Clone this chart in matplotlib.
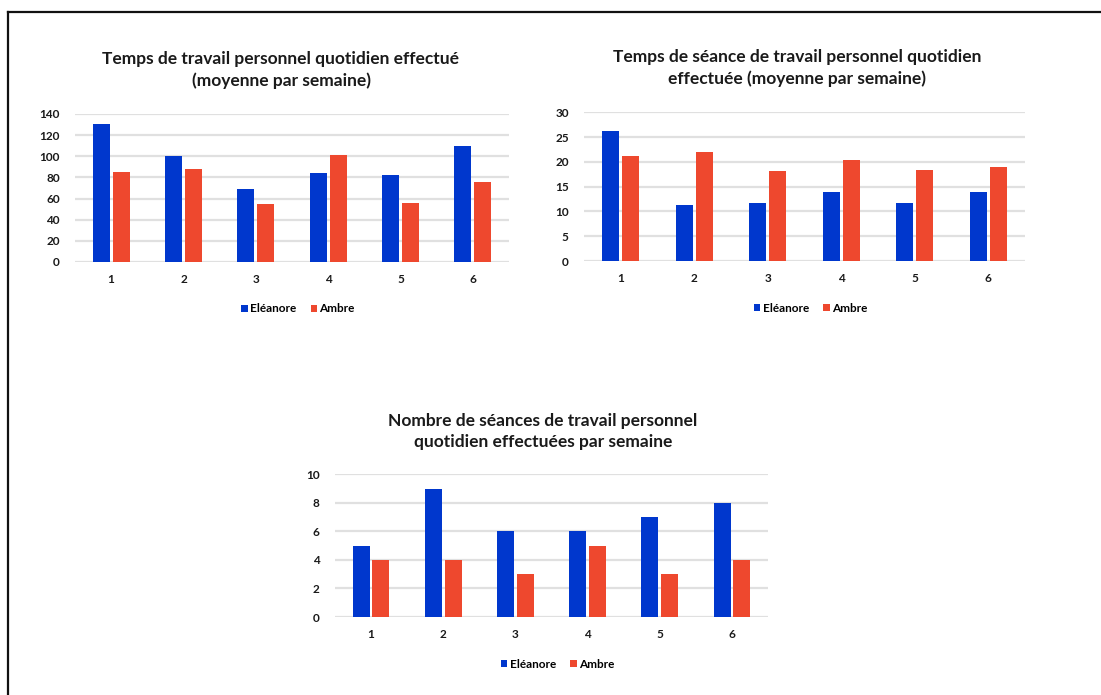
import matplotlib
matplotlib.use("Agg")
import matplotlib.pyplot as plt
import numpy as np
from matplotlib.lines import Line2D
from matplotlib.patches import Patch

plt.rcParams["font.family"] = ["Lato", "DejaVu Sans"]
plt.rcParams["font.weight"] = "bold"

W, H = 1101, 695

weeks = ["1", "2", "3", "4", "5", "6"]
series_names = ["Eléanore", "Ambre"]
colors = ["#0037CD", "#EE482E"]

# Daily personal work time (weekly mean)
time_eleanore = [131, 100, 69, 84, 82, 110]
time_ambre = [85, 88, 54.5, 101.5, 56, 76]

# Daily session length (weekly mean)
session_eleanore = [26.3, 11.2, 11.7, 14.0, 11.7, 13.9]
session_ambre = [21.2, 22.0, 18.2, 20.3, 18.4, 18.9]

# Number of sessions per week
count_eleanore = [5, 9, 6, 6, 7, 8]
count_ambre = [4, 4, 3, 5, 3, 4]

charts = [
    dict(title="Temps de travail personnel quotidien effectué\n(moyenne par semaine)",
         data=(time_eleanore, time_ambre), ymax=140, step=20,
         box=(75, 114, 509, 262), title_xy=(281, 70)),
    dict(title="Temps de séance de travail personnel quotidien\neffectuée (moyenne par semaine)",
         data=(session_eleanore, session_ambre), ymax=30, step=5,
         box=(584, 112.3, 1025, 261), title_xy=(797, 68)),
    dict(title="Nombre de séances de travail personnel\nquotidien effectuées par semaine",
         data=(count_eleanore, count_ambre), ymax=10, step=2,
         box=(335, 474.3, 768, 617), title_xy=(543, 431.5)),
]

fig = plt.figure(figsize=(W / 100, H / 100), dpi=100)

bar_w = 0.235
offsets = [-0.137, 0.137]
x = np.arange(len(weeks))

for ch in charts:
    x0, y0, x1, y1 = ch["box"]
    ax = fig.add_axes([x0 / W, 1 - y1 / H, (x1 - x0) / W, (y1 - y0) / H])
    for vals, off, col in zip(ch["data"], offsets, colors):
        ax.bar(x + off, vals, width=bar_w, color=col, zorder=3)
    ax.set_xlim(-0.5, len(weeks) - 0.5)
    ax.set_ylim(0, ch["ymax"])
    ax.set_yticks(np.arange(0, ch["ymax"] + 0.1, ch["step"]))
    ax.set_xticks(x)
    ax.set_xticklabels(weeks)
    ax.yaxis.grid(True, color="#E0E0E0", linewidth=1.6, zorder=0)
    ax.set_axisbelow(True)
    for s in ax.spines.values():
        s.set_visible(False)
    ax.tick_params(axis="both", length=0, labelsize=8.5, colors="#1a1a1a")
    ax.tick_params(axis="x", pad=9)
    ax.tick_params(axis="y", pad=11)
    for lbl in ax.get_xticklabels() + ax.get_yticklabels():
        lbl.set_fontweight("bold")
    legend_y = -47 / (y1 - y0)
    handles = [Patch(facecolor=c, edgecolor="none") for c in colors]
    ax.legend(handles, series_names, loc="center",
              bbox_to_anchor=(0.5 + (6 / (x1 - x0)), legend_y),
              ncol=2, frameon=False, handlelength=0.55, handleheight=0.55,
              handletextpad=0.2, columnspacing=1.2,
              prop=dict(size=8.5, weight="bold"))
    tx, ty = ch["title_xy"]
    fig.text(tx / W, 1 - ty / H, ch["title"], ha="center", va="center",
             multialignment="center", fontsize=12.5, fontweight="bold",
             color="#1a1a1a", linespacing=1.4)

# Frame around the page
fig.add_artist(Line2D([8 / W, 8 / W], [0, 1 - 12 / H], transform=fig.transFigure,
                      color="#111111", linewidth=1.6))
fig.add_artist(Line2D([8 / W, 1], [1 - 12 / H, 1 - 12 / H], transform=fig.transFigure,
                      color="#111111", linewidth=1.6))

fig.savefig("out.png", dpi=100)
